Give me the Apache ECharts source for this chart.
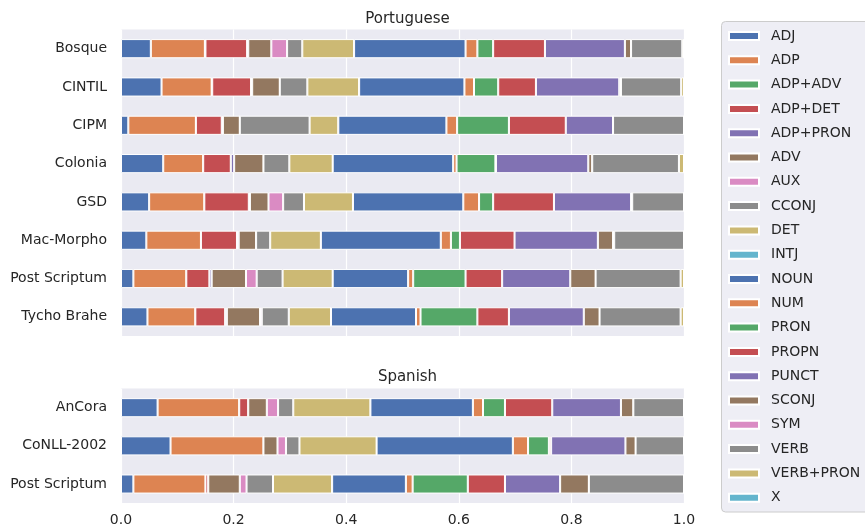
<!DOCTYPE html>
<html>
<head>
<meta charset="utf-8">
<script src="https://cdn.jsdelivr.net/npm/echarts@6/dist/echarts.min.js"></script>
<style>
  html, body { margin: 0; padding: 0; background: #ffffff; }
  #chart { width: 865px; height: 532px; }
</style>
</head>
<body>
<div id="chart"></div>
<script>
// Universal POS tags, in stacking order
const tags = ['ADJ', 'ADP', 'ADP+ADV', 'ADP+DET', 'ADP+PRON', 'ADV', 'AUX', 'CCONJ', 'DET', 'INTJ',
              'NOUN', 'NUM', 'PRON', 'PROPN', 'PUNCT', 'SCONJ', 'SYM', 'VERB', 'VERB+PRON', 'X'];

const ptCorpora = ['Bosque', 'CINTIL', 'CIPM', 'Colonia', 'GSD', 'Mac-Morpho', 'Post Scriptum', 'Tycho Brahe'];
const esCorpora = ['AnCora', 'CoNLL-2002', 'Post Scriptum'];

const xTicks = [0.0, 0.2, 0.4, 0.6, 0.8, 1.0];

// Relative tag frequencies per corpus (same order as tags)
//                ADJ    ADP    A+ADV  A+DET  A+PRON ADV    AUX    CCONJ  DET    INTJ  NOUN   NUM    PRON   PROPN  PUNCT  SCONJ  SYM    VERB   V+PRON X
const bosque   = [0.053, 0.096, 0.001, 0.074, 0.002, 0.041, 0.028, 0.027, 0.092, 0, 0.198, 0.021, 0.028, 0.092, 0.142, 0.011, 0,     0.091, 0.003, 0];
const cintil   = [0.072, 0.089, 0.001, 0.069, 0.002, 0.049, 0,     0.049, 0.092, 0, 0.187, 0.017, 0.043, 0.067, 0.148, 0.003, 0,     0.107, 0.005, 0];
const cipm     = [0.013, 0.120, 0,     0.046, 0.002, 0.030, 0,     0.124, 0.051, 0, 0.192, 0.019, 0.092, 0.101, 0.084, 0,     0,     0.126, 0,     0];
const colonia  = [0.075, 0.071, 0,     0.049, 0.006, 0.052, 0,     0.046, 0.077, 0, 0.214, 0.006, 0.069, 0.001, 0.164, 0.007, 0,     0.154, 0.009, 0];
const gsd      = [0.050, 0.098, 0,     0.079, 0.002, 0.033, 0.026, 0.037, 0.087, 0, 0.196, 0.028, 0.025, 0.108, 0.137, 0.002, 0,     0.092, 0,     0];
const macMorph = [0.045, 0.097, 0,     0.064, 0.003, 0.031, 0,     0.025, 0.090, 0, 0.213, 0.018, 0.016, 0.097, 0.148, 0.027, 0.002, 0.124, 0,     0];
const psPt     = [0.022, 0.094, 0,     0.041, 0.004, 0.061, 0.019, 0.046, 0.089, 0, 0.134, 0.009, 0.093, 0.065, 0.121, 0.045, 0,     0.151, 0.006, 0];
const tycho    = [0.047, 0.085, 0,     0.053, 0.003, 0.059, 0.003, 0.048, 0.075, 0, 0.151, 0.008, 0.101, 0.056, 0.133, 0.028, 0,     0.144, 0.006, 0];

const ancora   = [0.065, 0.145, 0,     0.016, 0,     0.033, 0.020, 0.027, 0.137, 0, 0.182, 0.018, 0.039, 0.084, 0.122, 0.022, 0,     0.090, 0,     0];
const conll    = [0.088, 0.165, 0,     0,     0,     0.025, 0.015, 0.024, 0.137, 0, 0.242, 0.027, 0.037, 0.004, 0.132, 0.018, 0,     0.086, 0,     0];
const psEs     = [0.022, 0.128, 0,     0.005, 0,     0.056, 0.012, 0.047, 0.105, 0, 0.131, 0.012, 0.098, 0.066, 0.098, 0.051, 0,     0.169, 0,     0];

const ptRows = [bosque, cintil, cipm, colonia, gsd, macMorph, psPt, tycho];
const esRows = [ancora, conll, psEs];

const palette = ['#4C72B0', '#DD8452', '#55A868', '#C44E52', '#8172B3',
                 '#937860', '#DA8BC3', '#8C8C8C', '#CCB974', '#64B5CD'];

const textColor = '#262626';
const fontFamily = 'DejaVu Sans';

const chart = echarts.init(document.getElementById('chart'), null, { renderer: 'canvas' });

const series = [];
tags.forEach((tag, i) => {
  const color = palette[i % palette.length];
  const common = {
    name: tag,
    type: 'bar',
    barWidth: '50%',
    itemStyle: { color: color, borderColor: '#ffffff', borderWidth: 1 },
    emphasis: { disabled: true },
    animation: false
  };
  series.push(Object.assign({}, common, {
    xAxisIndex: 0, yAxisIndex: 0, stack: 'pt',
    data: ptRows.map(r => r[i])
  }));
  series.push(Object.assign({}, common, {
    xAxisIndex: 1, yAxisIndex: 1, stack: 'es',
    data: esRows.map(r => r[i])
  }));
});

const xAxisBase = {
  type: 'value',
  min: 0, max: 1, interval: 0.2,
  axisLine: { show: false },
  axisTick: { show: false },
  splitLine: { show: true, lineStyle: { color: '#ffffff', width: 1.2 } }
};
const yAxisBase = {
  type: 'category',
  inverse: true,
  axisLine: { show: false },
  axisTick: { show: false },
  splitLine: { show: false },
  axisLabel: { color: textColor, fontSize: 14, fontFamily: fontFamily, margin: 14 }
};

chart.setOption({
  backgroundColor: '#ffffff',
  animation: false,
  textStyle: { fontFamily: fontFamily },
  title: [
    { text: 'Portuguese', left: 402.5, top: 7, textAlign: 'center',
      textStyle: { color: textColor, fontSize: 15, fontWeight: 'normal', fontFamily: fontFamily } },
    { text: 'Spanish', left: 402.5, top: 365, textAlign: 'center',
      textStyle: { color: textColor, fontSize: 15, fontWeight: 'normal', fontFamily: fontFamily } }
  ],
  // legend frame, running past the right edge of the canvas
  graphic: [{
    type: 'rect',
    z: 0,
    silent: true,
    shape: { x: 721.5, y: 21.5, width: 200, height: 490.5, r: 4 },
    style: { fill: '#EEEEF5', stroke: '#CCCCCC', lineWidth: 1 }
  }],
  grid: [
    { left: 121, width: 563, top: 29.5, height: 306.5, show: true, backgroundColor: '#EAEAF2', borderWidth: 0 },
    { left: 121, width: 563, top: 388.6, height: 114.5, show: true, backgroundColor: '#EAEAF2', borderWidth: 0 }
  ],
  xAxis: [
    Object.assign({}, xAxisBase, { gridIndex: 0, axisLabel: { show: false } }),
    Object.assign({}, xAxisBase, {
      gridIndex: 1,
      axisLabel: {
        color: textColor, fontSize: 14, fontFamily: fontFamily, margin: 10,
        formatter: v => {
          const t = xTicks.find(x => Math.abs(x - v) < 1e-9);
          return (t === undefined ? v : t).toFixed(1);
        }
      }
    })
  ],
  yAxis: [
    Object.assign({}, yAxisBase, { gridIndex: 0, data: ptCorpora }),
    Object.assign({}, yAxisBase, { gridIndex: 1, data: esCorpora })
  ],
  legend: {
    data: tags,
    orient: 'vertical',
    left: 721,
    top: 21,
    z: 10,
    padding: [7, 0, 7, 7],
    itemWidth: 30,
    itemHeight: 8,
    itemGap: 8.3,
    icon: 'rect',
    selectedMode: false,
    textStyle: { color: textColor, fontSize: 14, fontFamily: fontFamily, lineHeight: 16, padding: [0, 0, 0, 7] }
  },
  series: series
});
</script>
</body>
</html>
